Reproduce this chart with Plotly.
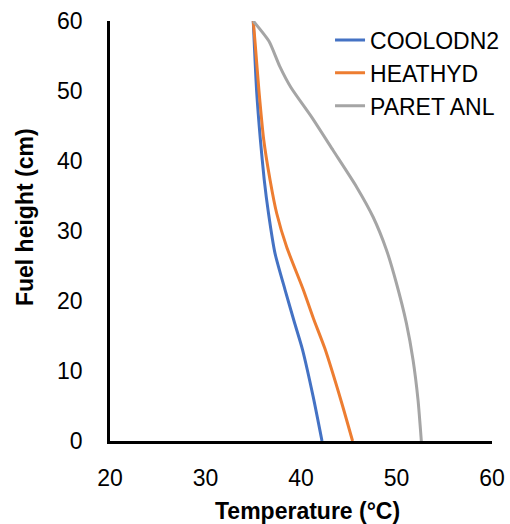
import plotly.graph_objects as go

# Fuel height (cm) and temperature (°C) for each series
cool_h = [60, 50.1, 43, 37.3, 32.5, 26.8, 21.6, 17, 13.1, 6.3, 0]
cool_t = [35.0, 35.35, 35.75, 36.15, 36.6, 37.28, 38.33, 39.3, 40.15, 41.28, 42.2]

heat_h = [60, 56.8, 50, 43, 37.3, 32.5, 27.7, 21.6, 17.5, 13.2, 5.5, 0]
heat_t = [35.0, 35.2, 35.6, 36.1, 36.76, 37.46, 38.5, 40.24, 41.3, 42.5, 44.25, 45.4]

paret_h = [60, 57.1, 53.6, 50.5, 46.3, 41.5, 36.3, 32, 27.3, 22.5, 16.8, 11.6, 5.9, 0]
paret_t = [35.0, 36.65, 37.75, 38.95, 41.1, 43.37, 45.82, 47.55, 48.95, 50.0, 51.04, 51.73, 52.25, 52.6]

series_names = ["COOLODN2", "HEATHYD", "PARET ANL"]
colors = ["#4472C4", "#ED7D31", "#A5A5A5"]

x_ticks = [20, 30, 40, 50, 60]
y_ticks = [0, 10, 20, 30, 40, 50, 60]

x_title = "Temperature (°C)"
y_title = "Fuel height (cm)"

FONT = "Liberation Sans, Arial, sans-serif"

fig = go.Figure()
for name, t, h, c in zip(series_names, [cool_t, heat_t, paret_t], [cool_h, heat_h, paret_h], colors):
    fig.add_trace(go.Scatter(
        x=t, y=h, name=name, mode="lines",
        line=dict(color=c, width=3, shape="spline", smoothing=0.6),
    ))

fig.update_layout(
    width=510, height=524,
    margin=dict(l=110, r=18, t=21, b=83, autoexpand=False),
    paper_bgcolor="white", plot_bgcolor="white",
    font=dict(family=FONT, size=23, color="black"),
    showlegend=True,
    legend=dict(x=0.576, y=1.006, xanchor="left", yanchor="top",
                bgcolor="rgba(0,0,0,0)", font=dict(size=23),
                tracegroupgap=0, itemwidth=30),
    xaxis=dict(range=[20, 60], tickvals=x_ticks, showgrid=False, zeroline=False,
               showline=True, linecolor="black", linewidth=2.5, ticks="",
               ticklabelstandoff=15, automargin=False, ticklabeloverflow="allow"),
    yaxis=dict(range=[0, 60], tickvals=y_ticks, showgrid=False, zeroline=False,
               showline=True, linecolor="black", linewidth=2.5, ticks="",
               ticklabelstandoff=20, automargin=False, ticklabeloverflow="allow"),
    annotations=[
        dict(text="<b>" + x_title + "</b>", xref="paper", yref="paper",
             x=0.516, y=0, xanchor="center", yanchor="middle", yshift=-70,
             showarrow=False, font=dict(size=23)),
        dict(text="<b>" + y_title + "</b>", xref="paper", yref="paper",
             x=0, y=0.532, xanchor="center", yanchor="middle", xshift=-85.5,
             textangle=-90, showarrow=False, font=dict(size=23)),
    ],
)

fig.write_html("out.html", config={"displayModeBar": False},
               post_script="document.body.style.margin='0px';")
